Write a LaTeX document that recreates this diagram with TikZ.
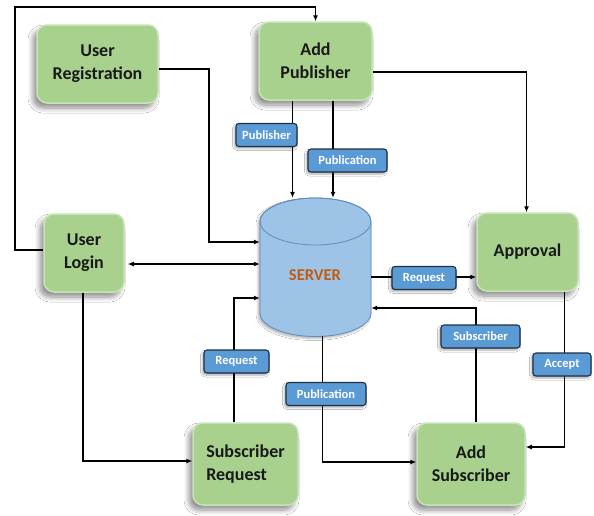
\documentclass[tikz,border=0pt]{standalone}
\usepackage{fontspec}
\setmainfont{Carlito}
\usetikzlibrary{arrows.meta,shadows.blur}

\definecolor{procgreen}{HTML}{A9D18E}
\definecolor{procedge}{HTML}{C9E2B8}
\definecolor{tagblue}{HTML}{5B9BD5}
\definecolor{tagdark}{HTML}{1F2F45}
\definecolor{srvfill}{HTML}{9DC3E6}
\definecolor{srvedge}{HTML}{5E8DBE}
\definecolor{srvtext}{HTML}{C55A11}

\tikzset{
  proc/.style={rectangle, rounded corners=10pt, fill=procgreen, draw=procedge,
    line width=1.5pt, align=center, text=black!90,
    font=\bfseries\fontsize{18}{23}\selectfont,
    blur shadow={shadow xshift=-4pt, shadow yshift=-5pt, shadow blur steps=8,
      shadow opacity=45, shadow blur radius=5pt}},
  tag/.style={rectangle, rounded corners=3pt, fill=tagblue, draw=tagdark,
    line width=1.1pt, text=white, minimum height=23pt, inner sep=2pt,
    font=\bfseries\fontsize{12.5}{14}\selectfont,
    blur shadow={shadow xshift=-1.5pt, shadow yshift=-2pt, shadow blur steps=4,
      shadow opacity=35, shadow blur radius=2pt}},
  arr/.style={draw=black, line width=1.1pt, -{Latex[length=6pt,width=5pt]}},
  arrs/.style={draw=black, line width=1.1pt, {Latex[length=6pt,width=5pt]}-{Latex[length=6pt,width=5pt]}},
}

\begin{document}
\begin{tikzpicture}[x=1pt,y=-1pt]
\useasboundingbox[fill=white] (0,0) rectangle (594,515);

% process boxes
\node[proc, minimum width=121pt, minimum height=78pt] (reg)   at (97.5,64)  {User\\Registration};
\node[proc, minimum width=113pt, minimum height=78pt] (pub)   at (315.5,61) {Add\\Publisher};
\node[proc, minimum width=80pt,  minimum height=78pt] (login) at (84,253)   {User\\Login};
\node[proc, minimum width=101pt, minimum height=78pt] (appr)  at (527.5,252) {Approval};
\node[proc, minimum width=105pt, minimum height=82pt, align=left] (sreq) at (245.5,464) {Subscriber\\Request};
\node[proc, minimum width=108pt, minimum height=82pt] (asub)  at (471,464)  {Add\\Subscriber};

% server drum
\node[rectangle, minimum width=111pt, minimum height=138pt, inner sep=0pt] (server) at (315.5,267) {};
\filldraw[fill=srvfill, draw=srvedge, line width=0.8pt,
    blur shadow={shadow xshift=-2pt, shadow yshift=-2pt, shadow blur steps=4,
      shadow opacity=30, shadow blur radius=2pt}]
  (260,221.5) -- (260,313) arc[start angle=180, end angle=0, x radius=55.5, y radius=23.5]
  -- (371,221.5) arc[start angle=0, end angle=-180, x radius=55.5, y radius=23.5] -- cycle;
\draw[srvedge, line width=0.8pt] (315.5,221.5) ellipse[x radius=55.5, y radius=23.5];
\node[font=\bfseries\fontsize{16.5}{18}\selectfont, text=srvtext] (srvlabel) at (315,275) {SERVER};

% connectors
\coordinate (topleft) at (15,7);
\draw[arr] ([yshift=3pt]login.west) -| (topleft) -| (pub.north);

\coordinate (regbend) at (209,242);
\draw[arr] ([yshift=-5pt]reg.east) -| (regbend) -- (regbend -| server.west);

\draw[arr] ([xshift=-23pt]pub.south) -- ([xshift=-23pt]pub.south |- server.north);
\draw[arr] ([xshift=17.5pt]pub.south) -- ([xshift=17.5pt]pub.south |- server.north);

\draw[arr] ([yshift=-11pt]pub.east) -| ([xshift=-1pt]appr.north);

\draw[arrs] ([xshift=3pt,yshift=-11pt]login.east) -- ([yshift=-11pt]login.east -| server.west);

\draw[arr] ([xshift=-1pt]login.south) |- ([yshift=3pt]sreq.west);

\draw[arr] ([xshift=-11.5pt]sreq.north) |- ([yshift=-31pt]server.west);

\draw[arr] ([yshift=-10pt]server.east) -- ([yshift=-10pt]server.east -| appr.west);

\draw[arr] ([xshift=5pt]asub.north) |- ([yshift=-41pt]server.east);

\draw[arr] ([xshift=37pt]appr.south) |- ([yshift=17pt]asub.east);

\draw[arr] ([xshift=7pt]server.south) |- ([yshift=2pt]asub.west);

% connector labels
\node[tag, minimum width=61pt] (tPublisher) at (266.5,135) {Publisher};
\node[tag, minimum width=79pt] (tPubTop)    at (347.5,160.5) {Publication};
\node[tag, minimum width=64pt] (tReqRight)  at (424,278) {Request};
\node[tag, minimum width=79pt] (tSubscr)    at (480.5,336.5) {Subscriber};
\node[tag, minimum width=58pt] (tAccept)    at (562,364.5) {Accept};
\node[tag, minimum width=65pt] (tReqLeft)   at (236.5,361.5) {Request};
\node[tag, minimum width=80pt] (tPubBot)    at (326,394) {Publication};
\end{tikzpicture}
\end{document}
